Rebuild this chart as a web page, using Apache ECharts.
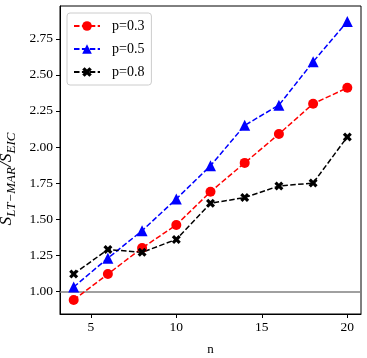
<!DOCTYPE html>
<html lang="en">
<head>
  <meta charset="UTF-8">
  <title>S ratio vs n</title>
  <style>
    html, body { margin: 0; padding: 0; background: #fff; }
    #chart { width: 367px; height: 358px; }
  </style>
  <script src="https://cdn.jsdelivr.net/npm/echarts@6/dist/echarts.min.js"></script>
</head>
<body>
  <div id="chart"></div>
  <script>
    // data
    const nValues = [4, 6, 8, 10, 12, 14, 16, 18, 20];
    const seriesNames = ['p=0.3', 'p=0.5', 'p=0.8'];
    const p03 = [0.94, 1.12, 1.30, 1.46, 1.69, 1.89, 2.09, 2.30, 2.41];
    const p05 = [1.03, 1.23, 1.42, 1.64, 1.87, 2.15, 2.29, 2.59, 2.87];
    const p08 = [1.12, 1.29, 1.27, 1.36, 1.61, 1.65, 1.73, 1.75, 2.07];
    const xTicks = [5, 10, 15, 20];
    const yTicks = [1.00, 1.25, 1.50, 1.75, 2.00, 2.25, 2.50, 2.75];

    const font = 'Liberation Serif';
    const dash = [5.5, 2.4];
    // filled "X" marker like matplotlib's 'X'
    const xMarker = 'path://M2.5,0 L5,2.5 L7.5,0 L10,2.5 L7.5,5 L10,7.5 L7.5,10 L5,7.5 L2.5,10 L0,7.5 L2.5,5 L0,2.5 Z';

    function pairs(ys) {
      return nValues.map((n, i) => [n, ys[i]]);
    }

    function makeSeries(name, ys, color, symbol, size) {
      return {
        name: name,
        type: 'line',
        data: pairs(ys),
        symbol: symbol,
        symbolSize: size,
        showAllSymbol: true,
        lineStyle: { color: color, width: 1.5, type: dash },
        itemStyle: { color: color },
        emphasis: { disabled: true },
        z: 3
      };
    }

    const chart = echarts.init(document.getElementById('chart'));
    const series = [
      makeSeries(seriesNames[0], p03, '#ff0000', 'circle', 10),
      makeSeries(seriesNames[1], p05, '#0000ff', 'triangle', 11),
      makeSeries(seriesNames[2], p08, '#000000', xMarker, 9)
    ];
    // gray reference line at 1
    series[0].markLine = {
      silent: true,
      symbol: 'none',
      label: { show: false },
      lineStyle: { color: '#808080', width: 1.5, type: 'solid' },
      data: [{ yAxis: 1 }],
      animation: false,
      z: 1
    };

    chart.setOption({
      animation: false,
      textStyle: { fontFamily: font },
      grid: {
        left: 60, right: 6, top: 6, bottom: 44,
        outerBoundsMode: 'none',
        containLabel: false,
        show: true, borderColor: '#000', borderWidth: 1, backgroundColor: 'transparent'
      },
      legend: {
        left: 67, top: 13,
        orient: 'vertical',
        data: seriesNames,
        itemWidth: 26, itemHeight: 12, itemGap: 9,
        padding: [6, 7, 6, 6],
        backgroundColor: '#fff',
        borderColor: '#cccccc', borderWidth: 1, borderRadius: 3,
        textStyle: { fontFamily: font, fontSize: 14, color: '#000', padding: [0, 0, 0, 7] }
      },
      xAxis: {
        type: 'value',
        min: 3.2, max: 20.8,
        name: 'n',
        nameLocation: 'middle',
        nameGap: 29,
        nameTextStyle: { fontFamily: font, fontSize: 13, color: '#000' },
        axisLine: { show: true, lineStyle: { color: '#000', width: 1 } },
        axisTick: { show: true, customValues: xTicks, length: 4, lineStyle: { color: '#000' } },
        axisLabel: { customValues: xTicks, color: '#000', fontSize: 13.5, margin: 6, fontFamily: font },
        splitLine: { show: false }
      },
      yAxis: {
        type: 'value',
        min: 0.843, max: 2.977,
        name: 'S{s|LT\u2212MAR}/S{s|EIC}',
        nameLocation: 'middle',
        nameGap: 39,
        nameRotate: 90,
        nameTextStyle: {
          fontFamily: font, fontStyle: 'italic', fontSize: 17.5, color: '#000',
          lineHeight: 24,
          padding: [0, 38, 0, 0],
          rich: {
            s: { fontFamily: font, fontStyle: 'italic', fontSize: 13, color: '#000', verticalAlign: 'bottom', lineHeight: 24 }
          }
        },
        axisLine: { show: true, lineStyle: { color: '#000', width: 1 } },
        axisTick: { show: true, customValues: yTicks, length: 4, lineStyle: { color: '#000' } },
        axisLabel: {
          customValues: yTicks, color: '#000', fontSize: 13.5, margin: 7, fontFamily: font,
          formatter: v => v.toFixed(2)
        },
        splitLine: { show: false }
      },
      series: series
    });
  </script>
</body>
</html>
